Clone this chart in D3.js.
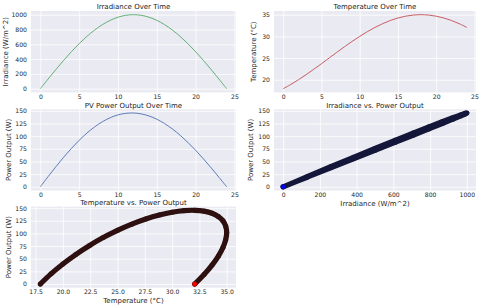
<!DOCTYPE html>
<html><head><meta charset="utf-8">
<script src="https://cdn.jsdelivr.net/npm/d3@7"></script>
<style>
html,body{margin:0;padding:0;background:#fff;}
svg{display:block;font-family:"DejaVu Sans",sans-serif;}
</style></head>
<body>
<svg id="chart" width="480" height="308"></svg>
<script>
// ---- data ----
const hours = [0,1,2,3,4,5,6,7,8,9,10,11,12,13,14,15,16,17,18,19,20,21,22,23,24];
const irradiance = [0,130.5,258.8,382.7,500,608.8,707.1,793.4,866.0,923.9,965.9,991.4,1000,991.4,965.9,923.9,866.0,793.4,707.1,608.8,500,382.7,258.8,130.5,0];
const temperature = [17.93,18.91,20.0,21.17,22.41,23.69,25.0,26.31,27.59,28.83,30.0,31.09,32.07,32.93,33.66,34.24,34.66,34.91,35.0,34.91,34.66,34.24,33.66,32.93,32.07];
const power = [0,20.05,39.60,58.28,75.78,91.80,106.07,118.38,128.56,136.46,141.99,145.09,145.76,143.99,139.87,133.46,124.88,114.29,101.82,87.70,72.10,55.28,37.48,18.95,0];
const timeTicks = [0,5,10,15,20,25];
const irrTicks = [0,200,400,600,800,1000];
const tempTicks = [20,25,30,35];
const powerTicks = [0,25,50,75,100,125,150];
const tempXTicks = [17.5,20,22.5,25,27.5,30,32.5,35];

const svg = d3.select("#chart");
const txt = "#262626";

function pad(ext){const m=(ext[1]-ext[0])*0.05;return [ext[0]-m,ext[1]+m];}

function panel(o){
  const x = d3.scaleLinear().domain(o.xd).range([o.l,o.r]);
  const y = d3.scaleLinear().domain(o.yd).range([o.b,o.t]);
  const g = svg.append("g");
  g.append("rect").attr("x",o.l).attr("y",o.t).attr("width",o.r-o.l).attr("height",o.b-o.t).attr("fill","#EAEAF2");
  const xa = g.append("g").attr("transform",`translate(0,${o.b})`)
    .call(d3.axisBottom(x).tickValues(o.xt).tickSize(-(o.b-o.t)).tickPadding(2).tickFormat(o.xf||d3.format("d")));
  const ya = g.append("g").attr("transform",`translate(${o.l},0)`)
    .call(d3.axisLeft(y).tickValues(o.yt).tickSize(-(o.r-o.l)).tickPadding(4).tickFormat(d3.format("d")));
  [xa,ya].forEach(a=>{
    a.select(".domain").remove();
    a.selectAll(".tick line").attr("stroke","#fff").attr("stroke-width",0.8);
    a.selectAll(".tick text").attr("fill",txt).attr("font-size","6.1px").attr("font-family","DejaVu Sans");
  });
  const cid = "c"+Math.round(o.l)+"_"+Math.round(o.t);
  svg.append("clipPath").attr("id",cid).append("rect").attr("x",o.l).attr("y",o.t).attr("width",o.r-o.l).attr("height",o.b-o.t);
  const pg = g.append("g").attr("clip-path",`url(#${cid})`);
  const pts = o.xs.map((v,i)=>[x(v),y(o.ys[i])]);
  if(o.type==="line"){
    pg.append("path").attr("d",d3.line().curve(d3.curveCatmullRom)(pts)).attr("fill","none").attr("stroke",o.color).attr("stroke-width",0.9);
  } else {
    pg.append("path").attr("d",d3.line().curve(d3.curveCatmullRom)(pts)).attr("fill","none")
      .attr("stroke",o.band).attr("stroke-width",5.2).attr("stroke-linecap","round").attr("stroke-linejoin","round");
    pg.selectAll("circle").data(pts).join("circle")
      .attr("cx",d=>d[0]).attr("cy",d=>d[1]).attr("r",2.5)
      .attr("fill",(d,i)=>i===pts.length-1?o.color:o.band).attr("stroke",(d,i)=>i===pts.length-1?"#300":"none").attr("stroke-width",0.3);
  }
  g.append("text").attr("x",(o.l+o.r)/2).attr("y",o.t-1.8).attr("text-anchor","middle").attr("font-size","7px").attr("fill","#222").text(o.title);
  if(o.xl) g.append("text").attr("x",(o.l+o.r)/2).attr("y",o.b+15.5).attr("text-anchor","middle").attr("font-size","7px").attr("fill",txt).text(o.xl);
  g.append("text").attr("transform",`translate(${o.ylx},${(o.t+o.b)/2}) rotate(-90)`).attr("text-anchor","middle").attr("font-size","7px").attr("fill",txt).text(o.yl);
}

const L=[31,236], R=[274,476];
const rows=[[11,92.4],[109.3,190.5],[206.6,287.7]];
const td = pad([0,24]), id = pad([0,1000]), tpd = pad(d3.extent(temperature)), pd = pad([0,d3.max(power)]);

panel({l:L[0],r:L[1],t:rows[0][0],b:rows[0][1],xd:td,yd:id,xt:timeTicks,yt:irrTicks,xs:hours,ys:irradiance,type:"line",color:"#55A868",title:"Irradiance Over Time",yl:"Irradiance (W/m^2)",ylx:8});
panel({l:R[0],r:R[1],t:rows[0][0],b:rows[0][1],xd:td,yd:tpd,xt:timeTicks,yt:tempTicks,xs:hours,ys:temperature,type:"line",color:"#C44E52",title:"Temperature Over Time",yl:"Temperature (°C)",ylx:256});
panel({l:L[0],r:L[1],t:rows[1][0],b:rows[1][1],xd:td,yd:pd,xt:timeTicks,yt:powerTicks,xs:hours,ys:power,type:"line",color:"#4C72B0",title:"PV Power Output Over Time",yl:"Power Output (W)",ylx:11});
panel({l:R[0],r:R[1],t:rows[1][0],b:rows[1][1],xd:id,yd:pd,xt:irrTicks,yt:powerTicks,xs:irradiance,ys:power,type:"scatter",color:"#0000ff",band:"#14163a",title:"Irradiance vs. Power Output",yl:"Power Output (W)",ylx:253,xl:"Irradiance (W/m^2)"});
panel({l:L[0],r:L[1],t:rows[2][0],b:rows[2][1],xd:tpd,yd:pd,xt:tempXTicks,yt:powerTicks,xf:d3.format(".1f"),xs:temperature,ys:power,type:"scatter",color:"#ff0000",band:"#2e1010",title:"Temperature vs. Power Output",yl:"Power Output (W)",ylx:11,xl:"Temperature (°C)"});
</script>
</body></html>
